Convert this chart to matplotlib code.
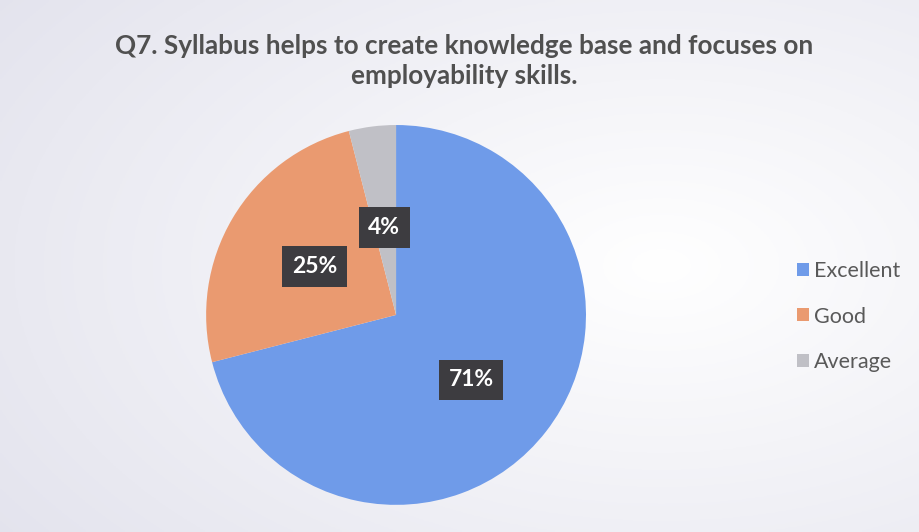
import numpy as np
import matplotlib.pyplot as plt

categories = ["Excellent", "Good", "Average"]
shares = [71, 25, 4]
colors = ["#6f9be9", "#ea9a70", "#c0c0c6"]
title = "Q7. Syllabus helps to create knowledge base and focuses on\nemployability skills."

plt.rcParams['font.family'] = ['Lato', 'DejaVu Sans']

fig = plt.figure(figsize=(9.2, 5.32), dpi=100)

# soft background shading like the scanned chart
bg = fig.add_axes([0, 0, 1, 1])
yy, xx = np.mgrid[0:1:200j, 0:1:300j]
d = np.sqrt(((xx - 0.72) / 0.9) ** 2 + ((yy - 0.5) / 0.9) ** 2)
shade = np.clip(d, 0, 1)
top = np.array([1.0, 1.0, 1.0])
edge = np.array([0.89, 0.89, 0.93])
img = top + (edge - top) * shade[..., None]
bg.imshow(img, extent=[0, 1, 0, 1], aspect='auto', origin='lower')
bg.axis('off')

fig.text(0.505, 0.885, title, ha='center', va='center', fontsize=18.8,
         fontweight='bold', color='#505050', linespacing=1.3)

ax = fig.add_axes([0.224, 0.051, 0.413, 0.714])
wedges, texts, autotexts = ax.pie(
    shares, colors=colors, startangle=90, counterclock=False,
    autopct='%1.0f%%', pctdistance=0.5, radius=1,
    wedgeprops=dict(linewidth=0),
    textprops=dict(color='white', fontsize=16.5, fontweight='bold'))
for t in autotexts:
    t.set_bbox(dict(boxstyle='square,pad=0.42', facecolor='#3d3c40',
                    edgecolor='none'))
# nudge labels down a little, like the original
for i in (0, 2):
    x, y = autotexts[i].get_position()
    autotexts[i].set_position((x, y - 0.035))
ax.set_xlim(-1, 1)
ax.set_ylim(-1, 1)
ax.set_aspect('equal')

leg = fig.legend(wedges, categories, loc='center left',
                 bbox_to_anchor=(0.845, 0.405), frameon=False,
                 fontsize=15.5, handlelength=0.55, handleheight=0.55,
                 handletextpad=0.25, labelspacing=1.2)
for t in leg.get_texts():
    t.set_color('#595959')

fig.savefig("out.png", dpi=100)
